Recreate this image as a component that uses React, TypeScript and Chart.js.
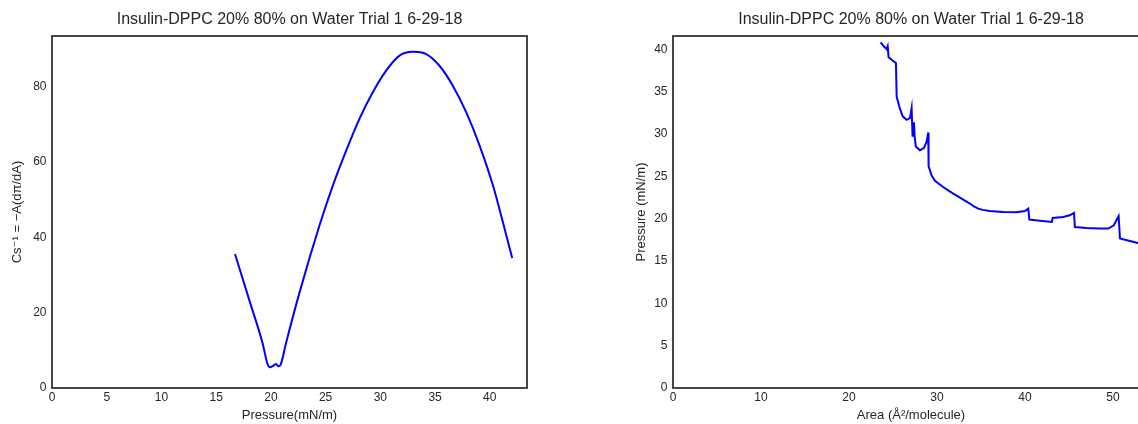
import React, { useEffect, useRef } from "react";
import { Chart, registerables } from "chart.js";

Chart.register(...registerables);

const titleText = "Insulin-DPPC 20% 80% on Water Trial 1 6-29-18";

// Left panel: compressibility modulus vs surface pressure
const csPressure = [
  16.72, 18.02, 19.24, 19.7, 19.91, 20.16, 20.46, 20.7, 20.89, 21.38, 22.6,
  24.43, 25.65, 26.87, 28.09, 29.3, 30.53, 31.75, 32.96, 34.19, 35.4, 36.62,
  37.85, 39.07, 40.3, 41.2, 42.05,
];
const csModulus = [
  35.6, 23.4, 11.9, 6.3, 5.5, 5.8, 6.4, 5.8, 6.2, 11.9, 25.2, 43.1, 53.7, 63.0,
  71.5, 78.5, 84.3, 88.3, 89.3, 88.7, 85.6, 80.3, 73.2, 64.4, 53.7, 44.0, 34.5,
];

// Right panel: isotherm, pressure vs area per molecule
const isoArea = [
  23.6, 23.98, 24.28, 24.4, 24.5, 24.85, 25.34, 25.42, 25.72, 26.1, 26.55,
  26.93, 27.12, 27.23, 27.39, 27.46, 27.6, 28.07, 28.52, 28.83, 29.01, 29.05,
  29.4, 29.77, 30.7, 31.85, 32.8, 33.75, 34.2, 34.7, 35.2, 36.0, 37.5, 39.05,
  40.0, 40.38, 40.5, 41.7, 43.07, 43.15, 44.35, 45.1, 45.57, 45.68, 47.0, 48.5,
  49.47, 50.1, 50.5, 50.65, 50.8, 51.93, 52.84, 53.6,
];
const isoPressure = [
  40.85, 40.35, 40.05, 40.4, 39.1, 38.8, 38.4, 34.45, 33.27, 32.1, 31.7, 31.9,
  33.07, 29.7, 31.4, 29.7, 28.55, 28.1, 28.36, 29.1, 30.2, 26.2, 25.1, 24.5,
  23.75, 22.97, 22.38, 21.8, 21.45, 21.2, 21.05, 20.92, 20.8, 20.77, 20.92,
  21.2, 19.9, 19.78, 19.62, 20.1, 20.2, 20.41, 20.69, 19.03, 18.9, 18.84, 18.84,
  19.23, 20.02, 20.3, 17.66, 17.38, 17.14, 16.95,
];

const leftXLabel = "Pressure(mN/m)";
const leftYLabel = "Cs\u207B\u00B9 = \u2212A(d\u03C0/dA)";
const rightXLabel = "Area (\u00C5\u00B2/molecule)";
const rightYLabel = "Pressure (mN/m)";

const leftXLimits = [0, 43.4];
const leftYLimits = [0, 93.5];
const leftXStep = 5;
const leftYStep = 20;
const rightXLimits = [0, 54.1];
const rightYLimits = [0, 41.6];
const rightXStep = 10;
const rightYStep = 5;

const FONT = "'Liberation Sans', Arial, 'DejaVu Sans', sans-serif";
const TEXT = "#262626";

const framePlugin = {
  id: "frame",
  afterDatasetsDraw(chart: any) {
    const { ctx, chartArea: a } = chart;
    ctx.save();
    ctx.strokeStyle = "#333333";
    ctx.lineWidth = 1.8;
    ctx.strokeRect(a.left, a.top, a.right - a.left, a.bottom - a.top);
    ctx.restore();
  },
};

function makeConfig(p: {
  xs: number[];
  ys: number[];
  xLim: number[];
  yLim: number[];
  xStep: number;
  yStep: number;
  xLabel: string;
  yLabel: string;
  yAxisWidth: number;
  yTitlePad: number;
  rightPad: number;
  tension: number;
}) {
  const points = p.xs.map((x, i) => ({ x, y: p.ys[i] }));
  return {
    type: "line" as const,
    data: {
      datasets: [
        {
          data: points,
          borderColor: "#0000ff",
          borderWidth: 2,
          pointRadius: 0,
          fill: false,
          tension: p.tension,
          cubicInterpolationMode: p.tension > 0 ? "monotone" : "default",
        },
      ],
    },
    options: {
      animation: false,
      responsive: false,
      devicePixelRatio: 1,
      parsing: false,
      layout: { padding: { left: 0, right: p.rightPad, top: 0, bottom: 0 } },
      plugins: {
        legend: { display: false },
        tooltip: { enabled: false },
        title: {
          display: true,
          text: titleText,
          fullSize: false,
          color: TEXT,
          font: { family: FONT, size: 16, weight: "normal" },
          padding: { top: 10.4, bottom: 6.4 },
        },
      },
      scales: {
        x: {
          type: "linear",
          min: p.xLim[0],
          max: p.xLim[1],
          grid: { display: false, drawTicks: false },
          border: { display: false },
          ticks: {
            stepSize: p.xStep,
            includeBounds: false,
            padding: 2,
            color: TEXT,
            maxRotation: 0,
            autoSkip: false,
            font: { family: FONT, size: 12 },
          },
          title: {
            display: true,
            text: p.xLabel,
            color: TEXT,
            font: { family: FONT, size: 13 },
            padding: { top: 0, bottom: 1.2 },
          },
          afterFit: (s: any) => {
            s.height = 36;
          },
        },
        y: {
          type: "linear",
          min: p.yLim[0],
          max: p.yLim[1],
          grid: { display: false, drawTicks: false },
          border: { display: false },
          ticks: {
            stepSize: p.yStep,
            includeBounds: false,
            padding: 5.5,
            color: TEXT,
            autoSkip: false,
            font: { family: FONT, size: 12 },
          },
          title: {
            display: true,
            text: p.yLabel,
            color: TEXT,
            font: { family: FONT, size: 13 },
            padding: { top: p.yTitlePad, bottom: 0 },
          },
          afterFit: (s: any) => {
            s.width = p.yAxisWidth;
          },
        },
      },
    },
    plugins: [framePlugin],
  };
}

export default function App() {
  const leftRef = useRef<HTMLCanvasElement>(null);
  const rightRef = useRef<HTMLCanvasElement>(null);

  useEffect(() => {
    const left = new Chart(
      leftRef.current as HTMLCanvasElement,
      makeConfig({
        xs: csPressure,
        ys: csModulus,
        xLim: leftXLimits,
        yLim: leftYLimits,
        xStep: leftXStep,
        yStep: leftYStep,
        xLabel: leftXLabel,
        yLabel: leftYLabel,
        yAxisWidth: 52,
        yTitlePad: 9.2,
        rightPad: 33,
        tension: 0.4,
      }) as any
    );
    const right = new Chart(
      rightRef.current as HTMLCanvasElement,
      makeConfig({
        xs: isoArea,
        ys: isoPressure,
        xLim: rightXLimits,
        yLim: rightYLimits,
        xStep: rightXStep,
        yStep: rightYStep,
        xLabel: rightXLabel,
        yLabel: rightYLabel,
        yAxisWidth: 93,
        yTitlePad: 53.2,
        rightPad: 31,
        tension: 0,
      }) as any
    );
    return () => {
      left.destroy();
      right.destroy();
    };
  }, []);

  return (
    <div
      style={{
        position: "absolute",
        left: 0,
        top: 0,
        width: 1138,
        height: 424,
        overflow: "hidden",
        background: "#ffffff",
      }}
    >
      <canvas
        ref={leftRef}
        width={560}
        height={424}
        style={{ position: "absolute", left: 0, top: 0, width: 560, height: 424 }}
      />
      <canvas
        ref={rightRef}
        width={600}
        height={424}
        style={{ position: "absolute", left: 580, top: 0, width: 600, height: 424 }}
      />
    </div>
  );
}
